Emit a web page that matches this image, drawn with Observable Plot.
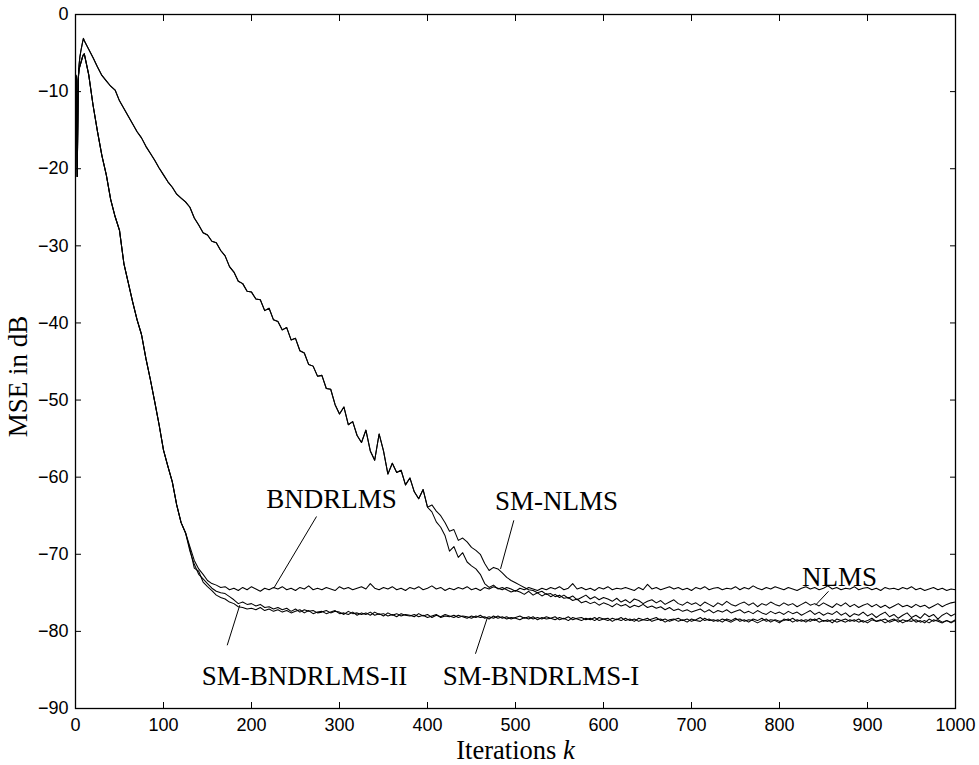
<!DOCTYPE html>
<html>
<head>
<meta charset="utf-8">
<script src="https://cdn.jsdelivr.net/npm/d3@7"></script>
<script src="https://cdn.jsdelivr.net/npm/@observablehq/plot@0.6"></script>
<style>
  html, body { margin: 0; padding: 0; background: #fff; }
  #chart { width: 979px; height: 765px; }
</style>
</head>
<body>
<div id="chart"></div>
<script>
// Learning curves (MSE in dB) of five adaptive filtering algorithms.

const xTicks = [0, 100, 200, 300, 400, 500, 600, 700, 800, 900, 1000];
const yTicks = [0, -10, -20, -30, -40, -50, -60, -70, -80, -90];

// Initial transient, iterations 0..10
const iterHead = [0, 1, 2, 3, 4, 5, 6, 7, 8, 9, 10];
const slowHead = [-7.8, -8.2, -21.0, -8.6, -6.6, -5.5, -4.8, -4.2, -3.6, -3.1, -3.4];
const fastHead = [-7.8, -8.2, -21.0, -8.6, -7.1, -6.7, -6.3, -5.9, -5.5, -5.2, -5.1];

// Shared decay of NLMS / SM-NLMS, iterations 15..400 every 5
const slowDecay = [
  -4.5, -5.6, -6.8, -7.9, -8.6, -9.3, -9.8, -11.2, -12.2, -13.2,
  -14.2, -15.2, -16.0, -17.1, -18.0, -18.9, -19.9, -20.8, -21.7, -22.4,
  -23.3, -23.8, -24.3, -25.0, -26.4, -27.3, -28.3, -28.6, -29.4, -29.6,
  -30.6, -31.3, -32.7, -33.4, -34.6, -34.9, -35.9, -36.0, -36.9, -37.0,
  -38.4, -38.1, -39.6, -39.8, -40.9, -40.6, -42.2, -42.0, -43.6, -43.9,
  -45.4, -45.6, -46.9, -46.8, -48.5, -48.6, -50.6, -51.8, -50.9, -53.2,
  -52.8, -54.6, -55.5, -53.9, -56.6, -57.8, -54.4, -56.6, -59.6, -58.2,
  -59.4, -59.1, -61.0, -60.1, -61.9, -62.8, -61.6, -63.9
];

// Shared decay of the three BNDRLMS variants, iterations 15..125 every 5
const fastDecay = [
  -7.8, -11.8, -15.2, -18.3, -20.8, -24.0, -26.2, -28.0, -32.3, -34.8,
  -37.3, -39.6, -41.5, -44.6, -47.3, -50.2, -53.2, -56.5, -58.6, -60.6,
  -63.6, -65.9, -67.2
];

// NLMS, iterations 405..1000 every 5
const nlmsTail = [
  -64.5, -65.8, -66.5, -67.6, -69.6, -69.0, -70.4, -69.8, -71.0, -71.5,
  -71.9, -72.6, -73.8, -74.3, -74.0, -74.5, -74.3, -74.6, -74.9, -74.7,
  -74.9, -75.2, -74.8, -75.3, -75.0, -75.4, -75.1, -75.5, -75.2, -75.6,
  -75.3, -75.7, -75.4, -75.9, -75.6, -75.3, -75.8, -75.5, -75.9, -75.6,
  -75.8, -76.1, -75.7, -76.2, -75.9, -76.3, -75.8, -76.0, -76.4, -76.1,
  -75.9, -76.3, -76.0, -76.5, -76.2, -75.9, -76.4, -76.6, -76.2, -76.5,
  -76.3, -76.7, -76.2, -76.5, -76.8, -76.3, -76.6, -76.1, -76.5, -76.7,
  -76.4, -76.2, -76.6, -76.3, -76.8, -76.4, -76.6, -76.2, -76.5, -76.7,
  -76.3, -76.6, -76.4, -76.8, -76.5, -76.2, -76.6, -76.4, -76.7, -76.3,
  -76.6, -76.9, -76.4, -76.7, -76.3, -76.8, -76.5, -76.9, -76.6, -76.4,
  -76.8, -76.5, -76.9, -76.6, -77.0, -76.7, -76.4, -76.8, -76.6, -76.9,
  -76.5, -76.8, -76.6, -77.0, -76.7, -76.4, -76.8, -76.5, -76.3, -76.2
];

// SM-NLMS, iterations 405..1000 every 5
const smNlmsTail = [
  -63.6, -64.4, -65.0, -65.9, -67.0, -66.8, -68.2, -67.9, -68.4, -69.1,
  -69.5, -70.0, -71.2, -72.1, -71.7, -71.9, -72.4, -73.0, -73.4, -73.7,
  -74.0, -74.3, -74.6, -74.7, -75.0, -74.8, -75.2, -75.1, -75.5, -75.3,
  -75.7, -75.6, -76.0, -75.8, -76.3, -76.1, -76.4, -76.2, -76.6, -76.3,
  -76.5, -76.8, -76.4, -76.7, -76.5, -76.9, -76.6, -76.8, -76.5, -76.9,
  -76.7, -77.0, -76.8, -77.2, -76.9, -77.3, -77.1, -77.4, -77.2, -77.5,
  -77.3, -77.1, -77.5, -77.2, -77.6, -77.3, -77.5, -77.2, -77.6, -77.4,
  -77.2, -77.6, -77.4, -77.7, -77.3, -77.6, -77.8, -77.4, -77.7, -77.5,
  -77.8, -77.4, -77.7, -77.5, -77.9, -77.6, -77.3, -77.8, -77.5, -77.9,
  -77.6, -77.8, -77.4, -77.9, -77.6, -78.1, -77.7, -77.9, -77.5, -78.0,
  -77.7, -78.2, -77.8, -77.5, -78.1, -77.8, -78.3, -77.9, -77.6, -78.2,
  -77.9, -78.3, -77.7, -78.1, -77.8, -78.4, -77.9, -77.6, -78.0, -77.7
];

// BNDRLMS, iterations 130..1000 every 5
const bndrlmsTail = [
  -69.0, -70.8, -71.9, -72.6, -73.4, -73.8, -74.0, -74.3, -74.2, -74.6,
  -74.4, -74.7, -74.3, -74.6, -74.2, -74.5, -74.8, -74.4, -74.6, -74.3,
  -74.5, -74.2, -74.6, -74.4, -74.7, -74.3, -74.5, -74.1, -74.6, -74.4,
  -74.6, -74.3, -74.5, -74.7, -74.2, -74.5, -74.3, -74.6, -74.4, -74.2,
  -74.5, -73.8, -74.4, -74.6, -74.3, -74.5, -74.2, -74.6, -74.4, -74.7,
  -74.3, -74.5, -74.2, -74.6, -74.4, -74.1, -74.5, -74.3, -74.7, -74.4,
  -74.6, -74.3, -74.5, -74.2, -74.6, -74.4, -74.7, -74.3, -74.5, -74.2,
  -74.4, -74.6, -74.3, -74.5, -74.8, -74.4, -74.6, -74.3, -74.5, -74.7,
  -74.4, -74.6, -74.3, -74.5, -74.2, -74.6, -74.4, -73.8, -74.5, -74.3,
  -74.6, -74.4, -74.7, -74.3, -74.5, -74.2, -74.6, -74.4, -74.5, -74.3,
  -74.5, -74.7, -74.3, -74.6, -73.9, -74.5, -74.3, -74.6, -74.4, -74.2,
  -74.5, -74.3, -74.6, -74.4, -74.7, -74.3, -74.5, -74.2, -74.6, -74.4,
  -74.3, -74.6, -74.4, -74.5, -74.2, -74.6, -74.3, -74.5, -74.1, -74.4,
  -74.6, -74.3, -74.5, -74.2, -74.4, -74.6, -74.3, -74.5, -74.7, -74.4,
  -74.2, -74.5, -74.3, -74.6, -74.4, -74.1, -74.5, -74.3, -74.6, -74.4,
  -74.5, -74.2, -74.6, -74.4, -74.3, -74.6, -74.4, -74.7, -74.3, -74.5,
  -74.4, -74.6, -74.3, -74.5, -74.2, -74.6, -74.4, -74.7, -74.5, -74.3,
  -74.6, -74.4, -74.7, -74.5, -74.6
];

// SM-BNDRLMS-I, iterations 130..1000 every 5
const smBndITail = [
  -69.3, -71.8, -72.2, -73.6, -74.2, -74.7, -75.3, -75.6, -75.8, -76.2,
  -76.4, -76.8, -76.9, -77.1, -77.0, -77.2, -76.9, -77.3, -77.1, -77.4,
  -77.2, -77.5, -77.3, -77.6, -77.4, -77.2, -77.6, -77.3, -77.7, -77.5,
  -77.4, -77.7, -77.5, -77.3, -77.7, -77.6, -77.8, -77.5, -77.9, -77.6,
  -77.8, -77.5, -77.9, -77.7, -78.0, -77.6, -77.9, -77.7, -78.0, -77.8,
  -77.9, -78.1, -77.7, -78.0, -77.8, -78.2, -77.9, -78.1, -77.8, -78.0,
  -78.2, -77.9, -78.1, -78.3, -78.0, -78.2, -77.9, -78.3, -78.1, -78.3,
  -78.0, -78.3, -78.1, -78.4, -78.2, -78.0, -78.3, -78.1, -78.4, -78.2,
  -78.4, -78.1, -78.3, -78.5, -78.2, -78.4, -78.1, -78.5, -78.3, -78.2,
  -78.5, -78.3, -78.6, -78.2, -78.4, -78.6, -78.3, -78.5, -78.2, -78.6,
  -78.4, -78.7, -78.3, -78.5, -78.6, -78.4, -78.2, -78.6, -78.4, -78.7,
  -78.5, -78.3, -78.6, -78.4, -78.7, -78.5, -78.2, -78.6, -78.4, -78.7,
  -78.5, -78.8, -78.4, -78.6, -78.3, -78.7, -78.5, -78.8, -78.4, -78.6,
  -78.3, -78.7, -78.5, -78.6, -78.9, -78.4, -78.6, -78.3, -78.7, -78.5,
  -78.8, -78.4, -78.6, -78.3, -78.7, -78.5, -78.9, -78.4, -78.6, -78.8,
  -78.5, -78.7, -78.4, -78.8, -78.6, -78.3, -78.7, -78.5, -78.9, -78.6,
  -78.4, -78.8, -78.5, -78.7, -78.3, -78.8, -78.6, -78.9, -78.4, -78.7,
  -78.5, -78.8, -78.6, -78.9, -78.6
];

// SM-BNDRLMS-II, iterations 130..1000 every 5
const smBndIITail = [
  -69.6, -71.3, -72.6, -73.2, -73.8, -74.4, -74.8, -75.0, -75.1, -75.5,
  -75.9, -76.4, -76.2, -76.5, -76.4, -76.7, -76.5, -76.9, -76.8, -77.1,
  -76.9, -77.2, -77.0, -77.4, -77.1, -77.5, -77.2, -77.4, -77.3, -77.6,
  -77.5, -77.3, -77.6, -77.4, -77.5, -77.8, -77.4, -77.7, -77.6, -77.8,
  -77.6, -77.9, -77.5, -77.8, -77.7, -78.0, -77.8, -78.1, -77.7, -77.9,
  -78.0, -77.8, -78.1, -77.9, -78.2, -78.0, -77.8, -78.2, -78.0, -78.1,
  -77.9, -78.2, -78.0, -78.1, -78.3, -78.0, -78.2, -78.1, -78.4, -78.0,
  -78.3, -78.1, -78.4, -78.2, -78.3, -78.5, -78.2, -78.4, -78.1, -78.5,
  -78.2, -78.4, -78.3, -78.1, -78.5, -78.3, -78.6, -78.2, -78.4, -78.6,
  -78.3, -78.5, -78.2, -78.6, -78.4, -78.3, -78.7, -78.4, -78.6, -78.3,
  -78.6, -78.4, -78.7, -78.5, -78.3, -78.7, -78.5, -78.4, -78.8, -78.5,
  -78.4, -78.7, -78.5, -78.8, -78.4, -78.6, -78.7, -78.3, -78.6, -78.5,
  -78.7, -78.4, -78.6, -78.8, -78.5, -78.4, -78.7, -78.5, -78.6, -78.9,
  -78.6, -78.4, -78.8, -78.5, -78.7, -78.6, -78.4, -78.8, -78.5, -78.7,
  -78.5, -78.7, -78.4, -78.8, -78.6, -78.7, -78.5, -78.8, -78.6, -78.4,
  -78.7, -78.5, -78.8, -78.6, -78.9, -78.5, -78.7, -78.6, -78.4, -78.8,
  -78.6, -78.5, -78.9, -78.6, -78.7, -78.5, -78.8, -78.6, -78.9, -78.5,
  -78.7, -78.9, -78.6, -78.8, -78.5
];

// Curve annotations: label text and leader lines (iteration, dB)
const labelNames = ["BNDRLMS", "SM-NLMS", "NLMS", "SM-BNDRLMS-II", "SM-BNDRLMS-I"];
const labelK     = [290.9, 546.6, 868.2, 260.2, 529.0];
const labelDb    = [-62.9, -63.1, -73.0, -85.8, -85.8];
const leaderK1   = [273.9, 498.1, 855.7, 172.4, 454.5];
const leaderDb1  = [-65.1, -65.6, -74.8, -81.8, -82.9];
const leaderK2   = [225.3, 483.0, 840.9, 186.7, 467.8];
const leaderDb2  = [-74.4, -71.9, -76.6, -76.6, -78.3];

// Build the point table
const pairs = (iters, vals) => vals.map((v, i) => ({k: iters[i], mse: v}));
const every5 = (start, vals) => vals.map((v, i) => ({k: start + 5 * i, mse: v}));

const curves = [
  {algo: "NLMS", pts: [...pairs(iterHead, slowHead), ...every5(15, slowDecay), ...every5(405, nlmsTail)]},
  {algo: "SM-NLMS", pts: [...pairs(iterHead, slowHead), ...every5(15, slowDecay), ...every5(405, smNlmsTail)]},
  {algo: "BNDRLMS", pts: [...pairs(iterHead, fastHead), ...every5(15, fastDecay), ...every5(130, bndrlmsTail)]},
  {algo: "SM-BNDRLMS-I", pts: [...pairs(iterHead, fastHead), ...every5(15, fastDecay), ...every5(130, smBndITail)]},
  {algo: "SM-BNDRLMS-II", pts: [...pairs(iterHead, fastHead), ...every5(15, fastDecay), ...every5(130, smBndIITail)]}
];
const rows = curves.flatMap(c => c.pts.map(p => ({algo: c.algo, k: p.k, mse: p.mse})));

const labels = labelNames.map((t, i) => ({t, k: labelK[i], db: labelDb[i]}));
const leaders = labelNames.map((t, i) => ({k1: leaderK1[i], d1: leaderDb1[i], k2: leaderK2[i], d2: leaderDb2[i]}));

const serif = "'Liberation Serif', 'Times New Roman', serif";
const fmt = d3.format("d");
const blank = () => "";

const chart = Plot.plot({
  width: 979,
  height: 765,
  marginLeft: 75,
  marginRight: 24,
  marginTop: 14,
  marginBottom: 57,
  style: {background: "white", color: "black", fontFamily: "'Liberation Sans', Arial, sans-serif", fontSize: "18px"},
  x: {domain: [0, 1000], label: null},
  y: {domain: [-90, 0], label: null},
  marks: [
    // inward ticks on all four sides
    Plot.axisX({anchor: "bottom", ticks: xTicks, tickFormat: blank, tickSize: -6, label: null}),
    Plot.axisX({anchor: "top", ticks: xTicks, tickFormat: blank, tickSize: -6, label: null}),
    Plot.axisY({anchor: "left", ticks: yTicks, tickFormat: blank, tickSize: -6, label: null}),
    Plot.axisY({anchor: "right", ticks: yTicks, tickFormat: blank, tickSize: -6, label: null}),
    // tick labels
    Plot.axisX({anchor: "bottom", ticks: xTicks, tickFormat: fmt, tickSize: 0, tickPadding: 10, label: null, fontSize: 18}),
    Plot.axisY({anchor: "left", ticks: yTicks, tickFormat: fmt, tickSize: 0, tickPadding: 7, label: null, fontSize: 18}),
    Plot.line(rows, {x: "k", y: "mse", z: "algo", stroke: "black", strokeWidth: 1.05}),
    Plot.link(leaders, {x1: "k1", y1: "d1", x2: "k2", y2: "d2", stroke: "black", strokeWidth: 1}),
    Plot.text(labels, {x: "k", y: "db", text: "t", fontFamily: serif, fontSize: 27, fill: "black"}),
    Plot.text(["MSE in dB"], {frameAnchor: "left", textAnchor: "middle", lineAnchor: "middle", rotate: -90, dx: -57, dy: 15, fontFamily: serif, fontSize: 27, fill: "black"}),
    Plot.text(["Iterations k"], {frameAnchor: "bottom", textAnchor: "middle", lineAnchor: "middle", dy: 42, fontFamily: serif, fontSize: 26.5, fill: "black"}),
    Plot.frame({stroke: "black", strokeWidth: 1.3})
  ]
});

// Set the iteration symbol in italics
d3.select(chart).selectAll("text")
  .filter(function () { return this.textContent === "Iterations k"; })
  .each(function () {
    const t = d3.select(this);
    t.text("Iterations ");
    t.append("tspan").attr("font-style", "italic").text("k");
  });

document.getElementById("chart").appendChild(chart);
</script>
</body>
</html>
